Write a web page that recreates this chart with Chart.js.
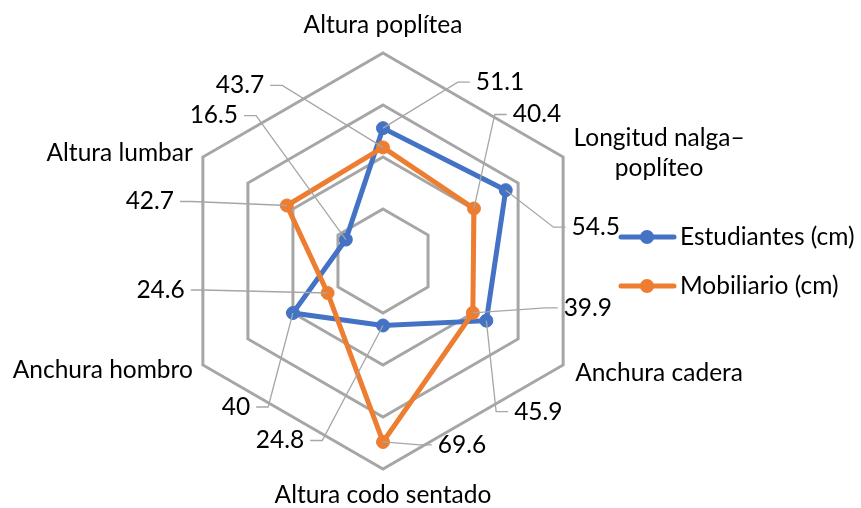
<!DOCTYPE html>
<html>
<head>
<meta charset="utf-8">
<script src="https://cdn.jsdelivr.net/npm/chart.js@4"></script>
<style>
    html, body { margin: 0; padding: 0; background: #ffffff; }
</style>
</head>
<body>
<canvas id="radar" width="861" height="508"></canvas>
<script>
// chart data
const categories = [
    ['Altura poplítea'],
    ['Longitud nalga–', 'poplíteo'],
    ['Anchura cadera'],
    ['Altura codo sentado'],
    ['Anchura hombro'],
    ['Altura lumbar']
];
const seriesNames = ['Estudiantes (cm)', 'Mobiliario (cm)'];
const estudiantes = [51.1, 54.5, 45.9, 24.8, 40, 16.5];
const mobiliario = [43.7, 40.4, 39.9, 69.6, 24.6, 42.7];
const scaleMin = 0;
const scaleMax = 80;
const scaleStep = 20;

// look
const FONT = 'Lato, "Open Sans", sans-serif';
const FONT_SIZE = 24.5;
const colors = ['#4472C4', '#ED7D31'];
const gridColor = '#A6A6A6';

// where each axis title sits, relative to the outer vertex
const axisLabelPlacement = [
    { align: 'center', dx: 0, dy: -28 },
    { align: 'center', dx: 96, dy: -4 },
    { align: 'left', dx: 12, dy: 8 },
    { align: 'center', dx: 0, dy: 26 },
    { align: 'right', dx: -10, dy: 5 },
    { align: 'right', dx: -10, dy: -4 }
];

// where each value label sits, relative to its point (text centre)
const valueLabelOffsets = [
    [[117, -46], [90, 37], [52, 91], [-103, 115], [-57, 94], [-132, -124]],
    [[-143, -62], [63, -94], [115, -5], [79, 3], [-167, -3], [-137, -4]]
];

const axisTitles = {
    id: 'axisTitles',
    afterDraw (chart) {
        const scale = chart.scales.r;
        const ctx = chart.ctx;
        ctx.save();
        ctx.font = `${FONT_SIZE}px ${FONT}`;
        ctx.fillStyle = '#000000';
        ctx.textBaseline = 'middle';
        categories.forEach((lines, i) => {
            const pos = scale.getPointPosition(i, scale.drawingArea);
            const place = axisLabelPlacement[i];
            const lineHeight = 30;
            const top = pos.y + place.dy - (lines.length - 1) * lineHeight / 2;
            ctx.textAlign = place.align;
            lines.forEach((line, k) => {
                ctx.fillText(line, pos.x + place.dx, top + k * lineHeight);
            });
        });
        ctx.restore();
    }
};

const valueLabels = {
    id: 'valueLabels',
    afterDatasetsDraw (chart) {
        const ctx = chart.ctx;
        ctx.save();
        ctx.font = `${FONT_SIZE}px ${FONT}`;
        ctx.textBaseline = 'middle';
        ctx.textAlign = 'center';
        chart.data.datasets.forEach((dataset, d) => {
            const meta = chart.getDatasetMeta(d);
            meta.data.forEach((point, i) => {
                const text = String(dataset.data[i]);
                const [dx, dy] = valueLabelOffsets[d][i];
                const tx = point.x + dx;
                const ty = point.y + dy;
                const w = ctx.measureText(text).width;
                let lineEnd, elbow;
                if (dx > 0) {
                    lineEnd = tx - w / 2 - 6;
                    elbow = lineEnd - 12;
                } else {
                    lineEnd = tx + w / 2 + 6;
                    elbow = lineEnd + 12;
                }
                ctx.strokeStyle = gridColor;
                ctx.lineWidth = 1.3;
                ctx.beginPath();
                ctx.moveTo(point.x, point.y);
                ctx.lineTo(elbow, ty);
                ctx.lineTo(lineEnd, ty);
                ctx.stroke();
                ctx.fillStyle = '#000000';
                ctx.fillText(text, tx, ty);
            });
        });
        ctx.restore();
    }
};

const sideLegend = {
    id: 'sideLegend',
    afterDraw (chart) {
        const ctx = chart.ctx;
        ctx.save();
        ctx.font = `${FONT_SIZE}px ${FONT}`;
        ctx.textBaseline = 'middle';
        ctx.textAlign = 'left';
        chart.data.datasets.forEach((dataset, d) => {
            const y = 237 + d * 49;
            ctx.strokeStyle = dataset.borderColor;
            ctx.lineWidth = 5;
            ctx.lineCap = 'round';
            ctx.beginPath();
            ctx.moveTo(621, y);
            ctx.lineTo(674, y);
            ctx.stroke();
            ctx.fillStyle = dataset.borderColor;
            ctx.beginPath();
            ctx.arc(647, y, 7, 0, Math.PI * 2);
            ctx.fill();
            ctx.fillStyle = '#000000';
            ctx.fillText(dataset.label, 680, y);
        });
        ctx.restore();
    }
};

new Chart(
    document.getElementById('radar'),
    {
        type: 'radar',
        data: {
            labels: categories,
            datasets: [
                {
                    label: seriesNames[0],
                    data: estudiantes,
                    borderColor: colors[0],
                    backgroundColor: colors[0],
                    pointBackgroundColor: colors[0],
                    pointBorderColor: colors[0],
                    borderWidth: 5,
                    pointRadius: 6.5,
                    pointBorderWidth: 1,
                    fill: false,
                    order: 1
                },
                {
                    label: seriesNames[1],
                    data: mobiliario,
                    borderColor: colors[1],
                    backgroundColor: colors[1],
                    pointBackgroundColor: colors[1],
                    pointBorderColor: colors[1],
                    borderWidth: 5,
                    pointRadius: 6.5,
                    pointBorderWidth: 1,
                    fill: false,
                    order: 0
                }
            ]
        },
        options: {
            responsive: false,
            animation: false,
            layout: {
                padding: { left: 175, top: 53, right: 270, bottom: 39 }
            },
            plugins: {
                legend: { display: false },
                tooltip: { enabled: false }
            },
            scales: {
                r: {
                    min: scaleMin,
                    max: scaleMax,
                    ticks: { display: false, stepSize: scaleStep },
                    grid: { color: gridColor, lineWidth: 3 },
                    angleLines: { display: false },
                    pointLabels: { display: false }
                }
            }
        },
        plugins: [valueLabels, axisTitles, sideLegend]
    }
);
</script>
</body>
</html>
